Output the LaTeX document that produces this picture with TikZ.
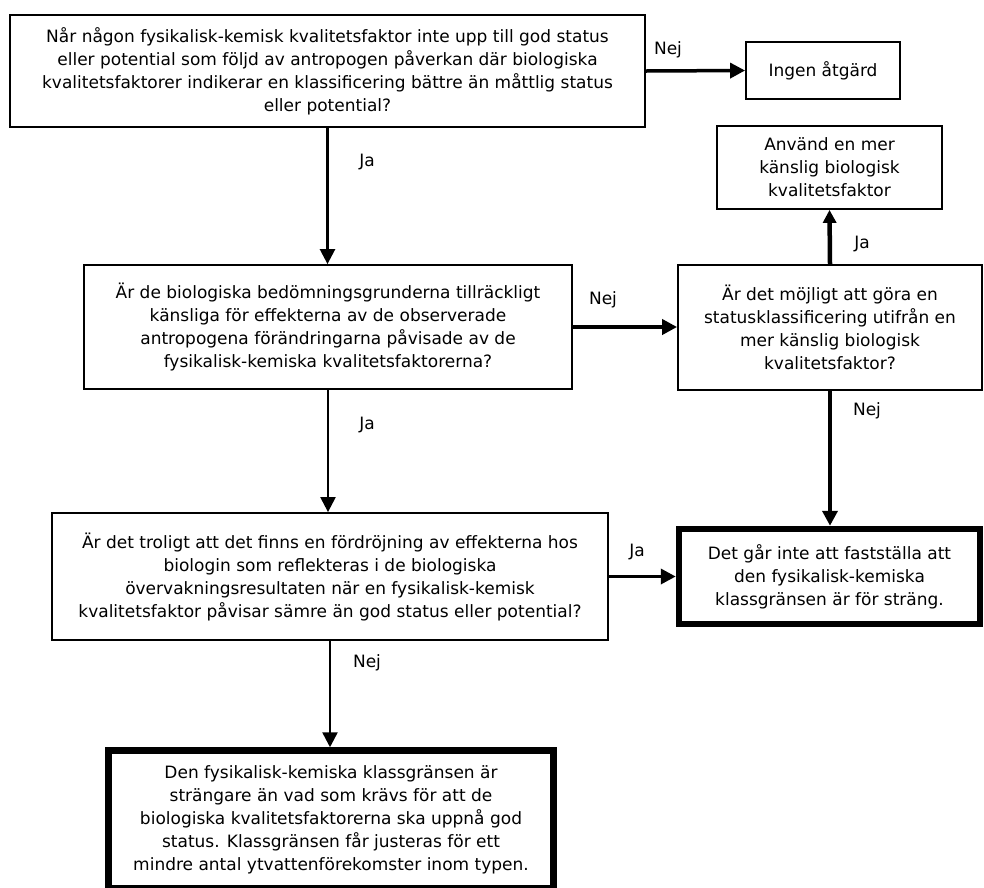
\documentclass[tikz,border=0pt]{standalone}
\usepackage{fontspec}
\setmainfont{DejaVu Sans}
\usetikzlibrary{arrows.meta, positioning}

\tikzset{
  ruta/.style={draw, line width=1.8pt, rectangle, align=center, inner sep=0pt,
    font=\fontsize{17}{23}\selectfont},
  slutruta/.style={ruta, line width=6.5pt},
  etikett/.style={inner sep=0pt, font=\fontsize{17}{20}\selectfont},
  pil/.style={line width=#1, -{Triangle[length=15pt,width=15pt]}},
}

\begin{document}
\begin{tikzpicture}[x=1pt, y=-1pt]
\useasboundingbox (0,0) rectangle (984,887);
% Frågor (vanliga rutor)
\node[ruta, minimum width=635pt, minimum height=112pt] (fraga1) at (327.5,71)
  {Når någon fysikalisk-kemisk kvalitetsfaktor inte upp till god status\\
   eller potential som följd av antropogen påverkan där biologiska\\
   kvalitetsfaktorer indikerar en klassificering bättre än måttlig status\\
   eller potential?};
\node[ruta, minimum width=154pt, minimum height=57pt] (ingen) at (823,70.5) {Ingen åtgärd};
\node[ruta, minimum width=225pt, minimum height=83pt] (anvand) at (829.5,167.5)
  {Använd en mer\\ känslig biologisk\\ kvalitetsfaktor};
\node[ruta, minimum width=488pt, minimum height=124pt] (fraga2) at (328,327)
  {Är de biologiska bedömningsgrunderna tillräckligt\\
   känsliga för effekterna av de observerade\\
   antropogena förändringarna påvisade av de\\
   fysikalisk-kemiska kvalitetsfaktorerna?};
\node[ruta, minimum width=304pt, minimum height=125pt] (fraga3) at (830,327.5)
  {Är det möjligt att göra en\\ statusklassificering utifrån en\\
   mer känslig biologisk\\ kvalitetsfaktor?};
\node[ruta, minimum width=556pt, minimum height=127pt] (fraga4) at (330,576.5)
  {Är det troligt att det finns en fördröjning av effekterna hos\\
   biologin som reflekteras i de biologiska\\
   övervakningsresultaten när en fysikalisk-kemisk\\
   kvalitetsfaktor påvisar sämre än god status eller potential?};
% Slutsatser (tjock ram)
\node[slutruta, minimum width=301pt, minimum height=95pt] (sluta) at (829.5,576.5)
  {Det går inte att fastställa att\\ den fysikalisk-kemiska\\ klassgränsen är för sträng.};
\node[slutruta, minimum width=445pt, minimum height=138pt] (slutb) at (331,819.5)
  {Den fysikalisk-kemiska klassgränsen är\\
   strängare än vad som krävs för att de\\
   biologiska kvalitetsfaktorerna ska uppnå god\\
   status. Klassgränsen får justeras för ett\\
   mindre antal ytvattenförekomster inom typen.};
% Pilar
\draw[pil=3.5pt] (fraga1.east) -- (ingen.west);
\draw[pil=2.5pt] (fraga1.south) -- (fraga1.south |- fraga2.north);
\draw[pil=4.5pt] (fraga2.east) -- (fraga2.east -| fraga3.west);
\draw[pil=4.5pt, -{Triangle[length=13pt,width=13pt]}] (fraga3.north) -- (anvand.south);
\draw[pil=4.5pt] (fraga3.south) -- (fraga3.south |- sluta.north);
\draw[pil=2.2pt] (fraga2.south) -- (fraga2.south |- fraga4.north);
\draw[pil=3.5pt] (fraga4.east) -- (sluta.west);
\draw[pil=2.5pt] (fraga4.south) -- (fraga4.south |- slutb.north);
% Etiketter
\node[etikett] (nej1) at (668,50) {Nej};
\node[etikett] (ja1) at (367,162) {Ja};
\node[etikett] (ja2) at (862,244) {Ja};
\node[etikett] (nej2) at (603,300) {Nej};
\node[etikett] (nej3) at (867,411) {Nej};
\node[etikett] (ja3) at (367,425) {Ja};
\node[etikett] (ja4) at (637,552) {Ja};
\node[etikett] (nej4) at (367,663) {Nej};
\end{tikzpicture}
\end{document}
